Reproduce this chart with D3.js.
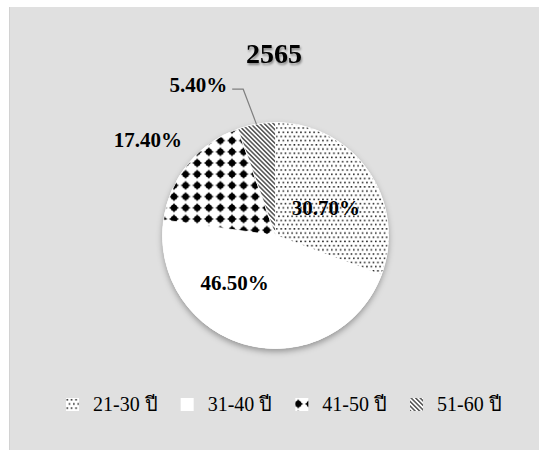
<!DOCTYPE html>
<html lang="th">
  <head>
    <meta charset="utf-8">
    <title>2565 Pie</title>
    <style>
      body { margin: 0; background: #fff; }
      text { font-family: "Liberation Serif", "Times New Roman", serif; }
    </style>
  </head>
  <body>
    <svg width="539" height="450"></svg>
    <script src="https://cdn.jsdelivr.net/npm/d3@7"></script>
    <script>
      // data
      const title = '2565';
      const categories = ['21-30 ปี', '31-40 ปี', '41-50 ปี', '51-60 ปี'];
      const values = [30.7, 46.5, 17.4, 5.4];
      const value_labels = ['30.70%', '46.50%', '17.40%', '5.40%'];

      const svg = d3.select('svg');
      const cx = 275.5, cy = 235.5, radius = 113;

      // panel
      svg.append('rect')
        .attr('x', 9).attr('y', 7)
        .attr('width', 540).attr('height', 450)
        .attr('fill', '#e0e0e0');
      svg.append('line')
        .attr('x1', 9.5).attr('x2', 9.5).attr('y1', 7).attr('y2', 450)
        .attr('stroke', '#d2d2d2');

      const defs = svg.append('defs');

      // drop shadow for the pie
      const shadow = defs.append('filter').attr('id', 'pie_shadow')
        .attr('x', '-20%').attr('y', '-20%').attr('width', '140%').attr('height', '140%');
      shadow.append('feDropShadow')
        .attr('dx', 0).attr('dy', 3)
        .attr('stdDeviation', 3)
        .attr('flood-color', '#000').attr('flood-opacity', 0.35);

      const tshadow = defs.append('filter').attr('id', 'title_shadow');
      tshadow.append('feDropShadow')
        .attr('dx', 1).attr('dy', 2)
        .attr('stdDeviation', 1.2)
        .attr('flood-color', '#000').attr('flood-opacity', 0.4);

      // fill patterns, one per category
      const p_dots = defs.append('pattern').attr('id', 'pat0')
        .attr('patternUnits', 'userSpaceOnUse').attr('width', 4.4).attr('height', 8.4);
      p_dots.append('rect').attr('width', 4.4).attr('height', 8.4).attr('fill', '#fff');
      p_dots.append('rect').attr('x', 0.5).attr('y', 1).attr('width', 1.5).attr('height', 1.5).attr('fill', '#111');
      p_dots.append('rect').attr('x', 2.7).attr('y', 5.2).attr('width', 1.5).attr('height', 1.5).attr('fill', '#111');

      const p_white = defs.append('pattern').attr('id', 'pat1')
        .attr('patternUnits', 'userSpaceOnUse').attr('width', 4).attr('height', 4);
      p_white.append('rect').attr('width', 4).attr('height', 4).attr('fill', '#fff');

      const p_dia = defs.append('pattern').attr('id', 'pat2')
        .attr('patternUnits', 'userSpaceOnUse').attr('width', 11.6).attr('height', 11.2)
        .attr('x', cx).attr('y', cy);
      p_dia.append('rect').attr('width', 11.6).attr('height', 11.2).attr('fill', '#fff');
      p_dia.append('path')
        .attr('d', 'M5.8,0.6 Q7,4.4 11,5.6 Q7,6.8 5.8,10.6 Q4.6,6.8 0.6,5.6 Q4.6,4.4 5.8,0.6 Z')
        .attr('fill', '#000');
      p_dia.append('circle').attr('cx', 5.8).attr('cy', 5.6).attr('r', 3.3).attr('fill', '#000');

      const p_lines = defs.append('pattern').attr('id', 'pat3')
        .attr('patternUnits', 'userSpaceOnUse').attr('width', 3.2).attr('height', 3.2)
        .attr('patternTransform', 'rotate(-45)');
      p_lines.append('rect').attr('width', 3.2).attr('height', 3.2).attr('fill', '#fff');
      p_lines.append('line').attr('x1', 0.8).attr('x2', 0.8).attr('y1', 0).attr('y2', 3.2)
        .attr('stroke', '#111').attr('stroke-width', 1.1);

      const fill_of = i => `url(#pat${i})`;

      // title
      svg.append('text')
        .attr('x', 274).attr('y', 63)
        .attr('text-anchor', 'middle')
        .attr('font-size', '28px').attr('font-weight', 'bold')
        .attr('filter', 'url(#title_shadow)')
        .text(title);

      // pie
      const pie = d3.pie().sort(null).value(d => d);
      const arcs = pie(values);
      const arc = d3.arc().innerRadius(0).outerRadius(radius);

      const pie_g = svg.append('g')
        .attr('transform', `translate(${cx},${cy})`);

      pie_g.append('circle').attr('r', radius).attr('fill', '#fff')
        .attr('filter', 'url(#pie_shadow)');

      pie_g.selectAll('path.slice')
        .data(arcs).enter()
        .append('path')
        .attr('class', 'slice')
        .attr('d', arc)
        .attr('fill', (d, i) => fill_of(i))
        .attr('stroke', '#fff')
        .attr('stroke-width', 0.8);

      // labels: large slices inside, small ones outside
      const in_arc = d3.arc().innerRadius(radius * 0.5).outerRadius(radius * 0.5);
      const out_arc = d3.arc().innerRadius(radius * 1.4).outerRadius(radius * 1.4);
      const edge_arc = d3.arc().innerRadius(radius).outerRadius(radius);
      const elbow_arc = d3.arc().innerRadius(radius * 1.3).outerRadius(radius * 1.3);
      // layout nudges (Excel best-fit placement)
      const nudge = [[4, 5], [-27, -7], [-5, 5], [-7.5, -1.5]];

      arcs.forEach((d, i) => {
        const lab = pie_g.append('text')
          .attr('font-size', '21px').attr('font-weight', 'bold')
          .attr('fill', '#000')
          .attr('dominant-baseline', 'central')
          .text(value_labels[i]);
        if (i < 2) {
          const [x, y] = in_arc.centroid(d);
          lab.attr('x', x + nudge[i][0]).attr('y', y + nudge[i][1]).attr('text-anchor', 'middle');
        } else if (i === 2) {
          const [x, y] = out_arc.centroid(d);
          lab.attr('x', x + nudge[i][0]).attr('y', y + nudge[i][1]).attr('text-anchor', 'middle');
        } else {
          const e = edge_arc.centroid(d);
          const [ex, ey] = elbow_arc.centroid(d);
          const ox = ex + nudge[i][0], oy = ey + nudge[i][1];
          pie_g.append('polyline')
            .attr('points', `${ox - 11},${oy} ${ox},${oy} ${e[0]},${e[1]}`)
            .attr('fill', 'none')
            .attr('stroke', '#7f7f7f')
            .attr('stroke-width', 1.2);
          lab.attr('x', ox - 16).attr('y', oy - 4).attr('text-anchor', 'end');
        }
      });

      // legend
      const legend_x = d3.scalePoint()
        .domain(categories)
        .range([66, 410]);

      const leg = svg.append('g').selectAll('g')
        .data(categories).enter()
        .append('g')
        .attr('transform', d => `translate(${legend_x(d)},398)`);

      leg.append('rect')
        .attr('width', 13).attr('height', 13)
        .attr('fill', (d, i) => fill_of(i));

      leg.append('text')
        .attr('x', 27).attr('y', 13)
        .attr('font-size', '20px')
        .attr('fill', '#000')
        .text(d => d);
    </script>
  </body>
</html>
